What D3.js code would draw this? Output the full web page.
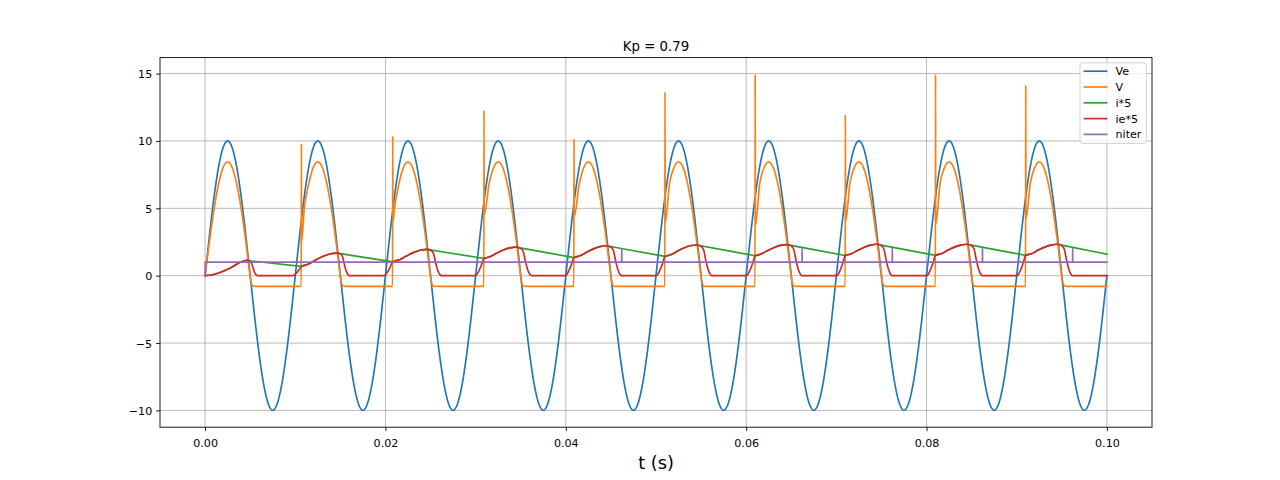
<!DOCTYPE html>
<html>
<head>
<meta charset="utf-8">
<script src="https://cdn.jsdelivr.net/npm/d3@7"></script>
<style>
  html, body { margin: 0; padding: 0; background: #ffffff; }
  svg { display: block; }
  text { font-family: "DejaVu Sans", sans-serif; fill: #000; }
</style>
</head>
<body>
<svg id="chart" width="1280" height="480"></svg>
<script>
// ---------------- DATA ----------------
const title = "Kp = 0.79";
const xLabel = "t (s)";
const seriesNames = ["Ve", "V", "i*5", "ie*5", "niter"];
const seriesColors = ["#1f77b4", "#ff7f0e", "#2ca02c", "#d62728", "#9467bd"];
const xTicks = [0, 0.02, 0.04, 0.06, 0.08, 0.10];
const yTicks = [-10, -5, 0, 5, 10, 15];

// Ve sampled every 0.5 ms from t = 0 to t = 0.1
const veStep = 0.0005;
const veValues = [
  0, 3.09, 5.88, 8.09, 9.51, 10, 9.51, 8.09, 5.88, 3.09, 0, -3.09, -5.88, -8.09, -9.51, -10, -9.51, -8.09, -5.88, -3.09,
  0, 3.09, 5.88, 8.09, 9.51, 10, 9.51, 8.09, 5.88, 3.09, 0, -3.09, -5.88, -8.09, -9.51, -10, -9.51, -8.09, -5.88, -3.09,
  0, 3.09, 5.88, 8.09, 9.51, 10, 9.51, 8.09, 5.88, 3.09, 0, -3.09, -5.88, -8.09, -9.51, -10, -9.51, -8.09, -5.88, -3.09,
  0, 3.09, 5.88, 8.09, 9.51, 10, 9.51, 8.09, 5.88, 3.09, 0, -3.09, -5.88, -8.09, -9.51, -10, -9.51, -8.09, -5.88, -3.09,
  0, 3.09, 5.88, 8.09, 9.51, 10, 9.51, 8.09, 5.88, 3.09, 0, -3.09, -5.88, -8.09, -9.51, -10, -9.51, -8.09, -5.88, -3.09,
  0, 3.09, 5.88, 8.09, 9.51, 10, 9.51, 8.09, 5.88, 3.09, 0, -3.09, -5.88, -8.09, -9.51, -10, -9.51, -8.09, -5.88, -3.09,
  0, 3.09, 5.88, 8.09, 9.51, 10, 9.51, 8.09, 5.88, 3.09, 0, -3.09, -5.88, -8.09, -9.51, -10, -9.51, -8.09, -5.88, -3.09,
  0, 3.09, 5.88, 8.09, 9.51, 10, 9.51, 8.09, 5.88, 3.09, 0, -3.09, -5.88, -8.09, -9.51, -10, -9.51, -8.09, -5.88, -3.09,
  0, 3.09, 5.88, 8.09, 9.51, 10, 9.51, 8.09, 5.88, 3.09, 0, -3.09, -5.88, -8.09, -9.51, -10, -9.51, -8.09, -5.88, -3.09,
  0, 3.09, 5.88, 8.09, 9.51, 10, 9.51, 8.09, 5.88, 3.09, 0, -3.09, -5.88, -8.09, -9.51, -10, -9.51, -8.09, -5.88, -3.09,
  0
];

// V : [t, value]
const vPoints = [
  [0,0],[0.0005,2.61],[0.001,4.97],[0.0015,6.84],[0.002,8.04],[0.0025,8.45],[0.003,8.04],[0.0035,6.84],[0.004,4.97],[0.0045,2.61],[0.0049,0.45],[0.0051,-0.5],[0.0053,-0.76],[0.0056,-0.8],
  [0.01066,-0.8],[0.01068,9.79],[0.0107,2.5],[0.011,4.97],[0.0115,6.84],[0.012,8.04],[0.0125,8.45],[0.013,8.04],[0.0135,6.84],[0.014,4.97],[0.0145,2.61],[0.0149,0.45],[0.0151,-0.5],[0.0153,-0.76],[0.0156,-0.8],
  [0.02079,-0.8],[0.02081,10.36],[0.02083,4.0],[0.021,4.97],[0.0215,6.84],[0.022,8.04],[0.0225,8.45],[0.023,8.04],[0.0235,6.84],[0.024,4.97],[0.0245,2.61],[0.0249,0.45],[0.0251,-0.5],[0.0253,-0.76],[0.0256,-0.8],
  [0.03091,-0.8],[0.03093,12.26],[0.03095,4.5],[0.0315,6.84],[0.032,8.04],[0.0325,8.45],[0.033,8.04],[0.0335,6.84],[0.034,4.97],[0.0345,2.61],[0.0349,0.45],[0.0351,-0.5],[0.0353,-0.76],[0.0356,-0.8],
  [0.04089,-0.8],[0.04091,10.16],[0.04093,4.4],[0.0415,6.84],[0.042,8.04],[0.0425,8.45],[0.043,8.04],[0.0435,6.84],[0.044,4.97],[0.0445,2.61],[0.0449,0.45],[0.0451,-0.5],[0.0453,-0.76],[0.0456,-0.8],
  [0.05098,-0.8],[0.0510,13.63],[0.05102,3.9],[0.0515,6.84],[0.052,8.04],[0.0525,8.45],[0.053,8.04],[0.0535,6.84],[0.054,4.97],[0.0545,2.61],[0.0549,0.45],[0.0551,-0.5],[0.0553,-0.76],[0.0556,-0.8],
  [0.06098,-0.8],[0.0610,14.94],[0.06102,3.7],[0.0615,6.84],[0.062,8.04],[0.0625,8.45],[0.063,8.04],[0.0635,6.84],[0.064,4.97],[0.0645,2.61],[0.0649,0.45],[0.0651,-0.5],[0.0653,-0.76],[0.0656,-0.8],
  [0.07098,-0.8],[0.0710,11.94],[0.07102,4.0],[0.0715,6.84],[0.072,8.04],[0.0725,8.45],[0.073,8.04],[0.0735,6.84],[0.074,4.97],[0.0745,2.61],[0.0749,0.45],[0.0751,-0.5],[0.0753,-0.76],[0.0756,-0.8],
  [0.08098,-0.8],[0.0810,14.94],[0.08102,3.8],[0.0815,6.84],[0.082,8.04],[0.0825,8.45],[0.083,8.04],[0.0835,6.84],[0.084,4.97],[0.0845,2.61],[0.0849,0.45],[0.0851,-0.5],[0.0853,-0.76],[0.0856,-0.8],
  [0.09098,-0.8],[0.0910,14.12],[0.09102,4.2],[0.0915,6.84],[0.092,8.04],[0.0925,8.45],[0.093,8.04],[0.0935,6.84],[0.094,4.97],[0.0945,2.61],[0.0949,0.45],[0.0951,-0.5],[0.0953,-0.76],[0.0956,-0.8],
  [0.1,-0.8]
];

// conduction-phase rise of the current (shared by i*5 and ie*5), one list per cycle
const currentRise = [
  [[0,0],[0.0007,0.05],[0.0015,0.2],[0.0028,0.57],[0.0039,0.99],[0.0046,1.13]],
  [[0.01068,0.69],[0.01146,0.86],[0.01225,1.16],[0.01303,1.42],[0.01382,1.61],[0.0146,1.68]],
  [[0.02081,1.03],[0.02157,1.19],[0.02233,1.46],[0.02308,1.71],[0.02384,1.89],[0.0246,1.95]],
  [[0.03093,1.28],[0.03164,1.42],[0.03236,1.68],[0.03307,1.90],[0.03379,2.06],[0.0345,2.12]],
  [[0.04091,1.34],[0.04163,1.49],[0.04235,1.75],[0.04306,1.99],[0.04378,2.16],[0.0445,2.22]],
  [[0.0510,1.43],[0.0517,1.57],[0.0524,1.83],[0.0531,2.06],[0.0538,2.22],[0.0545,2.28]],
  [[0.0610,1.48],[0.0617,1.62],[0.0624,1.87],[0.0631,2.09],[0.0638,2.25],[0.0645,2.31]],
  [[0.0710,1.50],[0.0717,1.64],[0.0724,1.89],[0.0731,2.11],[0.0738,2.27],[0.0745,2.33]],
  [[0.0810,1.51],[0.0817,1.65],[0.0824,1.90],[0.0831,2.12],[0.0838,2.27],[0.0845,2.33]],
  [[0.0910,1.51],[0.0917,1.65],[0.0924,1.90],[0.0931,2.12],[0.0938,2.27],[0.0945,2.33]]
];
// i*5 decay after each peak
const iDecay = [
  [[0.0052,1.087],[0.01038,0.712]],
  [[0.0152,1.617],[0.02051,1.061]],
  [[0.0252,1.887],[0.03063,1.312]],
  [[0.0351,2.047],[0.04061,1.377]],
  [[0.0451,2.147],[0.0507,1.466]],
  [[0.0551,2.206],[0.0607,1.517]],
  [[0.0651,2.235],[0.0707,1.537]],
  [[0.0751,2.254],[0.0807,1.548]],
  [[0.0851,2.254],[0.0907,1.548]],
  [[0.0951,2.25],[0.1,1.60]]
];
// ie*5 fall to zero after each peak
const ieFall = [
  [[0.00496,1.07],[0.00514,0.96],[0.00532,0.57],[0.0055,0.23],[0.00568,0.05],[0.0058,0]],
  [[0.01502,1.60],[0.01523,1.43],[0.01544,0.84],[0.01565,0.34],[0.01586,0.07],[0.0160,0]],
  [[0.02508,1.85],[0.02532,1.66],[0.02556,0.98],[0.0258,0.39],[0.02604,0.08],[0.0262,0]],
  [[0.03501,2.01],[0.03527,1.80],[0.03552,1.06],[0.03578,0.42],[0.03603,0.08],[0.0362,0]],
  [[0.04501,2.11],[0.04527,1.89],[0.04552,1.11],[0.04578,0.44],[0.04603,0.09],[0.0462,0]],
  [[0.05501,2.17],[0.05527,1.94],[0.05552,1.14],[0.05578,0.46],[0.05603,0.09],[0.0562,0]],
  [[0.06501,2.19],[0.06527,1.96],[0.06552,1.16],[0.06578,0.46],[0.06603,0.09],[0.0662,0]],
  [[0.07501,2.21],[0.07527,1.98],[0.07552,1.17],[0.07578,0.47],[0.07603,0.09],[0.0762,0]],
  [[0.08501,2.21],[0.08527,1.98],[0.08552,1.17],[0.08578,0.47],[0.08603,0.09],[0.0862,0]],
  [[0.09501,2.21],[0.09527,1.98],[0.09552,1.17],[0.09578,0.47],[0.09603,0.09],[0.0962,0],[0.1,0]]
];
// ie*5 rise just before each conduction phase (cycles 1..9)
const iePreRise = [
  [],
  [[0.00968,0],[0.00988,0.05],[0.01008,0.17],[0.01038,0.41]],
  [[0.01981,0],[0.02001,0.07],[0.02021,0.26],[0.02051,0.62]],
  [[0.02993,0],[0.03013,0.09],[0.03033,0.32],[0.03063,0.77]],
  [[0.03991,0],[0.04011,0.09],[0.04031,0.34],[0.04061,0.80]],
  [[0.0500,0],[0.0502,0.10],[0.0504,0.36],[0.0507,0.86]],
  [[0.0600,0],[0.0602,0.10],[0.0604,0.37],[0.0607,0.89]],
  [[0.0700,0],[0.0702,0.11],[0.0704,0.38],[0.0707,0.90]],
  [[0.0800,0],[0.0802,0.11],[0.0804,0.38],[0.0807,0.91]],
  [[0.0900,0],[0.0902,0.11],[0.0904,0.38],[0.0907,0.91]]
];
// niter : [t, value]
const niterPoints = [
  [0,0],[0.00001,1],
  [0.0462,1],[0.0462,2],[0.04621,1],
  [0.0662,1],[0.0662,2],[0.06621,1],
  [0.0762,1],[0.0762,2],[0.07621,1],
  [0.0862,1],[0.0862,2],[0.08621,1],
  [0.0962,1],[0.0962,2],[0.09621,1],
  [0.1,1]
];

// ---------------- BUILD SERIES ----------------
const vePoints = veValues.map((v, i) => [i * veStep, v]);
const iPoints = [];
const iePoints = [];
currentRise.forEach((seg, k) => {
  iPoints.push(...seg, ...iDecay[k]);
  iePoints.push(...iePreRise[k], ...seg, ...ieFall[k]);
});

// ---------------- LAYOUT ----------------
const W = 1280, H = 480;
const pLeft = 160, pRight = 1152, pTop = 57.6, pBottom = 427.2;
const allY = [].concat(veValues, vPoints.map(d => d[1]));
const yMin = d3.min(allY), yMax = d3.max(allY);
const yPad = (yMax - yMin) * 0.05;
const x = d3.scaleLinear().domain([-0.005, 0.105]).range([pLeft, pRight]);
const y = d3.scaleLinear().domain([yMin - yPad, yMax + yPad]).range([pBottom, pTop]);

const svg = d3.select("#chart");
svg.append("rect").attr("width", W).attr("height", H).attr("fill", "#fff");

const defs = svg.append("defs");
defs.append("clipPath").attr("id", "clip")
  .append("rect").attr("x", pLeft).attr("y", pTop).attr("width", pRight - pLeft).attr("height", pBottom - pTop);

// grid
const grid = svg.append("g");
grid.selectAll(".gx").data(xTicks).enter().append("line")
  .attr("x1", d => x(d)).attr("x2", d => x(d)).attr("y1", pTop).attr("y2", pBottom)
  .attr("stroke", "#b0b0b0").attr("stroke-width", 0.89);
grid.selectAll(".gy").data(yTicks).enter().append("line")
  .attr("x1", pLeft).attr("x2", pRight).attr("y1", d => y(d)).attr("y2", d => y(d))
  .attr("stroke", "#b0b0b0").attr("stroke-width", 0.89);

// lines
const smooth = d3.line().x(d => x(d[0])).y(d => y(d[1])).curve(d3.curveMonotoneX);
const straight = d3.line().x(d => x(d[0])).y(d => y(d[1]));
const plot = svg.append("g").attr("clip-path", "url(#clip)");
const seriesData = [
  [vePoints, smooth], [vPoints, smooth], [iPoints, smooth], [iePoints, smooth], [niterPoints, straight]
];
seriesData.forEach(([data, gen], i) => {
  plot.append("path").attr("d", gen(data))
    .attr("fill", "none").attr("stroke", seriesColors[i]).attr("stroke-width", 1.67)
    .attr("stroke-linejoin", "round").attr("stroke-linecap", "square");
});

// frame
svg.append("rect").attr("x", pLeft).attr("y", pTop).attr("width", pRight - pLeft).attr("height", pBottom - pTop)
  .attr("fill", "none").attr("stroke", "#000").attr("stroke-width", 0.89);

// axes
const xAxis = d3.axisBottom(x).tickValues(xTicks).tickFormat(d3.format(".2f")).tickSize(3.9).tickSizeOuter(0);
const gx = svg.append("g").attr("transform", `translate(0,${pBottom})`).call(xAxis);
gx.select(".domain").remove();
gx.selectAll(".tick line").attr("stroke", "#000").attr("stroke-width", 0.89);
gx.selectAll(".tick text").attr("y", 19.6).attr("dy", null)
  .attr("font-family", "DejaVu Sans").attr("font-size", 11.11).attr("fill", "#000");

const yAxis = d3.axisLeft(y).tickValues(yTicks).tickFormat(d3.format("d")).tickSize(3.9).tickSizeOuter(0);
const gy = svg.append("g").attr("transform", `translate(${pLeft},0)`).call(yAxis);
gy.select(".domain").remove();
gy.selectAll(".tick line").attr("stroke", "#000").attr("stroke-width", 0.89);
gy.selectAll(".tick text").attr("x", -7.8).attr("dy", null).attr("y", 4)
  .attr("font-family", "DejaVu Sans").attr("font-size", 11.11).attr("fill", "#000");

// title and label
svg.append("text").attr("x", (pLeft + pRight) / 2).attr("y", 50.5).attr("text-anchor", "middle")
  .attr("font-size", 13.33).text(title);
svg.append("text").attr("x", (pLeft + pRight) / 2).attr("y", 468.5).attr("text-anchor", "middle")
  .attr("font-size", 17.78).text(xLabel);

// legend
const lg = svg.append("g");
lg.append("rect").attr("x", 1080).attr("y", 62.8).attr("width", 66.4).attr("height", 80.6)
  .attr("rx", 2.8).attr("ry", 2.8)
  .attr("fill", "#fff").attr("fill-opacity", 0.8).attr("stroke", "#cccccc").attr("stroke-width", 0.89);
seriesNames.forEach((name, i) => {
  const cy = 71.2 + i * 15.8;
  lg.append("line").attr("x1", 1084.4).attr("x2", 1106.6).attr("y1", cy).attr("y2", cy)
    .attr("stroke", seriesColors[i]).attr("stroke-width", 1.67).attr("stroke-linecap", "square");
  lg.append("text").attr("x", 1115.5).attr("y", cy + 4).attr("font-size", 11.11).text(name);
});
</script>
</body>
</html>
